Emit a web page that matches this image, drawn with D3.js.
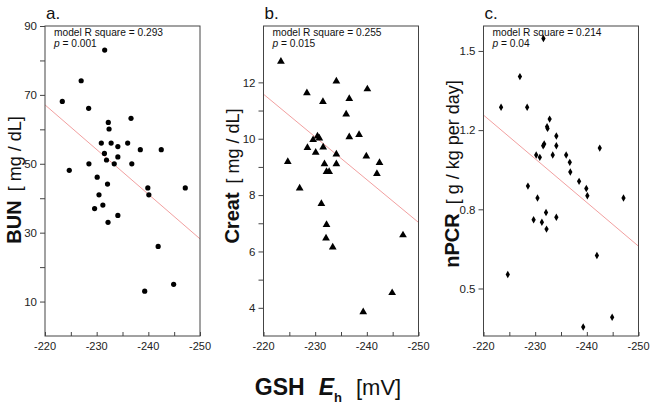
<!DOCTYPE html>
<html><head><meta charset="utf-8">
<script src="https://cdn.jsdelivr.net/npm/d3@7"></script>
<style>body{margin:0;background:#fff}svg{display:block;font-family:"Liberation Sans",Arial,Helvetica,sans-serif}</style>
</head><body><svg id="c" width="654" height="407"></svg>
<script>
// ---- data ----
const xTicks = [-220, -225, -230, -235, -240, -245, -250];
const xTickLabels = [-220, -230, -240, -250];

const bunX = [-223.35,-227.0,-231.55,-228.45,-232.25,-232.4,-236.65,-230.9,-232.8,-231.5,-234.1,-236.0,-234.1,-231.9,-233.4,-238.45,-242.5,-228.5,-236.8,-224.7,-230.1,-232.1,-239.9,-247.15,-230.45,-240.1,-231.2,-229.6,-234.1,-232.2,-241.9,-239.3,-244.9];
const bunY = [68.1,74.1,83.0,66.1,62.0,60.1,63.2,56.0,56.0,53.0,55.0,56.0,52.0,51.1,50.0,54.1,54.1,50.0,50.0,48.1,46.1,44.1,43.0,43.0,41.0,41.0,38.0,37.0,35.0,33.0,26.0,13.0,15.0];
const bunFit = [[-220, 67.1], [-250, 28.2]];
const bunMajor = [10, 30, 50, 70, 90];
const bunMinor = [20, 40, 60, 80];

const creatX = [-223.37,-228.4,-234.1,-240.1,-231.5,-236.6,-236.0,-230.45,-230.8,-229.6,-236.6,-238.5,-228.5,-231.55,-230.1,-234.1,-239.9,-224.7,-231.8,-234.1,-242.45,-232.2,-232.7,-241.95,-227.0,-231.2,-232.2,-232.1,-233.4,-247.0,-244.9,-239.3];
const creatY = [12.74,11.62,12.04,11.76,11.31,11.42,10.87,10.09,10.02,9.96,10.06,10.14,9.68,9.70,9.51,9.45,9.38,9.18,9.10,9.10,9.15,8.83,8.83,8.76,8.24,7.69,6.95,6.47,6.15,6.58,4.53,3.85];
const creatFit = [[-220, 11.58], [-250, 7.03]];
const creatMajor = [4, 6, 8, 10, 12];
const creatMinor = [5, 7, 9, 11];

const npcrX = [-231.6,-227.05,-223.4,-228.45,-232.8,-232.3,-232.4,-234.1,-242.5,-231.75,-231.55,-234.1,-230.2,-230.9,-233.4,-236.0,-236.7,-236.8,-238.5,-239.9,-240.1,-228.6,-230.45,-247.1,-232.1,-229.7,-231.3,-234.1,-232.2,-241.95,-224.7,-244.9,-239.3];
const npcrY = [1.552,1.392,1.263,1.263,1.213,1.181,1.174,1.142,1.091,1.108,1.101,1.101,1.062,1.052,1.062,1.062,1.031,0.990,0.951,0.921,0.890,0.931,0.881,0.881,0.820,0.789,0.779,0.800,0.750,0.639,0.559,0.379,0.338];
const npcrFit = [[-220, 1.230], [-250, 0.678]];
const npcrMajor = [0.5, 0.8333, 1.1667, 1.5];
const npcrMajorLabels = ["0.5", "0.8", "1.2", "1.5"];
const npcrMinor = [];

const panelLetters = ["a.", "b.", "c."];
const rsq = ["0.293", "0.255", "0.214"];
const pvals = ["0.001", "0.015", "0.04"];
const yNames = ["BUN", "Creat", "nPCR"];
const yUnits = ["[ mg / dL]", "[ mg / dL]", "[ g / kg per day]"];

// ---- drawing ----
const svg = d3.select("#c");
const FONT = '"Liberation Sans",Arial,Helvetica,sans-serif';
const panels = [
  {left:45, right:200, ydom:[0,90], xs:bunX, ys:bunY, fit:bunFit, major:bunMajor, majorLabels:bunMajor.map(String), minor:bunMinor, marker:"circle", labX:21, labY:180},
  {left:263.5, right:418.5, ydom:[3,14], xs:creatX, ys:creatY, fit:creatFit, major:creatMajor, majorLabels:creatMajor.map(String), minor:creatMinor, marker:"triangle", labX:239, labY:176},
  {left:483.5, right:638.5, ydom:[0.3,1.605], xs:npcrX, ys:npcrY, fit:npcrFit, major:npcrMajor, majorLabels:npcrMajorLabels, minor:npcrMinor, marker:"diamond", labX:459, labY:174}
];
const plotTop = 26, plotBottom = 336;

panels.forEach((p, i) => {
  const x = d3.scaleLinear().domain([-220, -250]).range([p.left, p.right]);
  const y = d3.scaleLinear().domain(p.ydom).range([plotBottom, plotTop]);
  const g = svg.append("g");

  g.append("line")
    .attr("x1", x(p.fit[0][0])).attr("y1", y(p.fit[0][1]))
    .attr("x2", x(p.fit[1][0])).attr("y2", y(p.fit[1][1]))
    .attr("stroke", "#f2a0a0").attr("stroke-width", 1);

  g.append("rect").attr("x", p.left).attr("y", plotTop)
    .attr("width", p.right - p.left).attr("height", plotBottom - plotTop)
    .attr("fill", "none").attr("stroke", "#444").attr("stroke-width", 1);

  const xa = g.append("g").attr("transform", `translate(0,${plotBottom})`)
    .call(d3.axisBottom(x).tickValues(xTicks).tickSize(-4).tickFormat(""));
  xa.select(".domain").remove();
  xa.selectAll("line").attr("stroke", "#444");
  g.selectAll(".xl").data(xTickLabels).join("text")
    .attr("x", d => x(d)).attr("y", 350).attr("text-anchor", "middle")
    .attr("font-size", 11).attr("fill", "#222").text(d => d);

  const ya = g.append("g").attr("transform", `translate(${p.left},0)`)
    .call(d3.axisLeft(y).tickValues(p.major).tickSize(5)
      .tickFormat((d, k) => p.majorLabels[k]).tickPadding(3));
  ya.select(".domain").remove();
  ya.selectAll("line").attr("stroke", "#444");
  ya.selectAll("text").attr("font-size", 11.5).attr("font-family", FONT).attr("fill", "#222");
  if (p.minor.length) {
    const ym = g.append("g").attr("transform", `translate(${p.left},0)`)
      .call(d3.axisLeft(y).tickValues(p.minor).tickSize(5).tickFormat(""));
    ym.select(".domain").remove();
    ym.selectAll("line").attr("stroke", "#444");
  }

  const pts = p.xs.map((v, k) => [v, p.ys[k]]);
  if (p.marker === "circle") {
    g.selectAll(".pt").data(pts).join("circle")
      .attr("cx", d => x(d[0])).attr("cy", d => y(d[1])).attr("r", 2.6).attr("fill", "#000");
  } else {
    const sym = p.marker === "triangle" ? d3.symbol(d3.symbolTriangle, 26) : d3.symbol(d3.symbolDiamond, 16);
    g.selectAll(".pt").data(pts).join("path")
      .attr("d", sym).attr("transform", d => `translate(${x(d[0])},${y(d[1])})`).attr("fill", "#000");
  }

  g.append("text").attr("x", p.left + 1).attr("y", 19).attr("font-size", 17).attr("fill", "#111").text(panelLetters[i]);

  g.append("text").attr("x", p.left + 9).attr("y", 36).attr("font-size", 10.2).attr("fill", "#111")
    .text("model R square = " + rsq[i]);
  const pt = g.append("text").attr("x", p.left + 9).attr("y", 47).attr("font-size", 10.2).attr("fill", "#111");
  pt.append("tspan").attr("font-style", "italic").text("p");
  pt.append("tspan").text(" = " + pvals[i]);

  const yl = g.append("text").attr("text-anchor", "middle")
    .attr("transform", `translate(${p.labX},${p.labY}) rotate(-90)`).attr("fill", "#111");
  yl.append("tspan").attr("font-weight", "bold").attr("font-size", 20).text(yNames[i]);
  yl.append("tspan").attr("font-size", 18).attr("dx", 9).text(yUnits[i]);
});

const xl = svg.append("text").attr("text-anchor", "middle")
  .attr("transform", "translate(328,395)").attr("fill", "#111");
xl.append("tspan").attr("font-weight", "bold").attr("font-size", 23).text("GSH");
xl.append("tspan").attr("font-weight", "bold").attr("font-style", "italic").attr("font-size", 23).attr("dx", 14).text("E");
xl.append("tspan").attr("font-weight", "bold").attr("font-size", 13).attr("dy", 7).text("h");
xl.append("tspan").attr("font-size", 22).attr("dy", -7).attr("dx", 14).text("[mV]");
</script></body></html>
